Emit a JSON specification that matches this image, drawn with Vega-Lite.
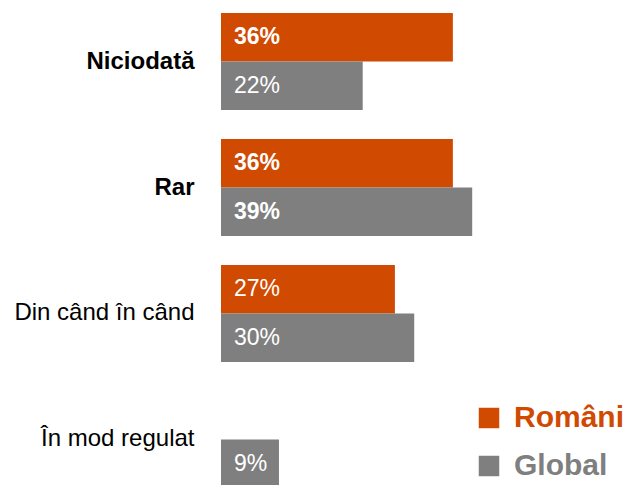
{
  "$schema": "https://vega.github.io/schema/vega-lite/v6.json",
  "width": 409,
  "height": 485,
  "autosize": {"type": "none"},
  "padding": {"left": 221, "top": 0, "right": 0, "bottom": 0},
  "background": "white",
  "config": {"view": {"stroke": null}, "font": "Liberation Sans"},
  "data": {
    "values": [
      {"category": "Niciodată", "series": "Români", "value": 0.36},
      {"category": "Niciodată", "series": "Global", "value": 0.22},
      {"category": "Rar", "series": "Români", "value": 0.36},
      {"category": "Rar", "series": "Global", "value": 0.39},
      {"category": "Din când în când", "series": "Români", "value": 0.27},
      {"category": "Din când în când", "series": "Global", "value": 0.30},
      {"category": "În mod regulat", "series": "Global", "value": 0.09}
    ]
  },
  "encoding": {
    "y": {
      "field": "category",
      "type": "nominal",
      "sort": ["Niciodată", "Rar", "Din când în când", "În mod regulat"],
      "scale": {"range": [13, 488], "paddingInner": 0.23, "paddingOuter": 0},
      "axis": {
        "title": null,
        "ticks": false,
        "domain": false,
        "labelFontSize": 24,
        "labelPadding": 27,
        "labelColor": "black",
        "labelLimit": 400,
        "labelFontWeight": {
          "condition": {"test": "datum.value == 'Niciodată' || datum.value == 'Rar'", "value": "bold"},
          "value": "normal"
        }
      }
    },
    "yOffset": {
      "field": "series",
      "type": "nominal",
      "sort": ["Români", "Global"],
      "scale": {"paddingInner": 0, "paddingOuter": 0}
    },
    "x": {
      "field": "value",
      "type": "quantitative",
      "scale": {"domain": [0, 0.635], "nice": false},
      "axis": null
    }
  },
  "layer": [
    {
      "mark": {"type": "bar"},
      "encoding": {
        "color": {
          "field": "series",
          "type": "nominal",
          "scale": {"domain": ["Români", "Global"], "range": ["#D04A02", "#7F7F7F"]},
          "legend": {
            "orient": "none",
            "legendX": 253,
            "legendY": 403,
            "title": null,
            "symbolType": "square",
            "symbolSize": 420,
            "symbolStrokeWidth": 0,
            "symbolOpacity": 1,
            "labelFontSize": 30,
            "labelFontWeight": "bold",
            "labelOffset": 10,
            "rowPadding": 18,
            "labelLimit": 300,
            "encode": {"labels": {"update": {"fill": {"scale": "color", "field": "value"}}}}
          }
        }
      }
    },
    {
      "transform": [{"filter": "(datum.category == 'Niciodată' && datum.series == 'Români') || datum.category == 'Rar'"}],
      "mark": {"type": "text", "align": "left", "baseline": "middle", "dx": 13, "fontSize": 23, "fontWeight": "bold", "color": "white"},
      "encoding": {
        "x": {"datum": 0},
        "text": {"field": "value", "type": "quantitative", "format": ".0%"}
      }
    },
    {
      "transform": [{"filter": "!((datum.category == 'Niciodată' && datum.series == 'Români') || datum.category == 'Rar')"}],
      "mark": {"type": "text", "align": "left", "baseline": "middle", "dx": 13, "fontSize": 23, "fontWeight": "normal", "color": "white"},
      "encoding": {
        "x": {"datum": 0},
        "text": {"field": "value", "type": "quantitative", "format": ".0%"}
      }
    }
  ]
}
